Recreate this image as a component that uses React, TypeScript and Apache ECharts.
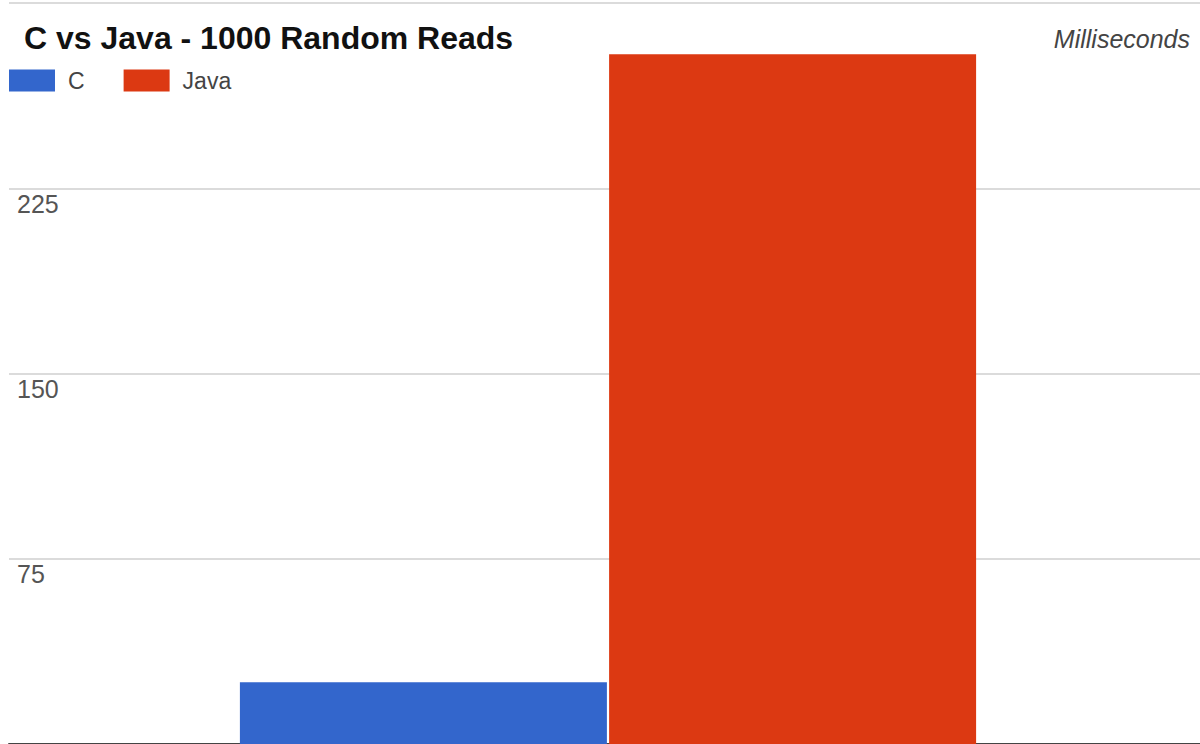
import React, { useEffect, useRef } from "react";
import * as echarts from "echarts";

const categories = ["1000 Random Reads"];
const seriesNames = ["C", "Java"];
const cValues = [25.0];
const javaValues = [279.3];
const seriesColors = ["#3366cc", "#dc3912"];
const yMin = 0;
const yMax = 300;
const yStep = 75;

export default function App() {
  const ref = useRef<HTMLDivElement>(null);

  useEffect(() => {
    if (!ref.current) return;
    const chart = echarts.init(ref.current, undefined, { renderer: "svg" });
    const font = "'Liberation Sans', Arial, sans-serif";
    chart.setOption({
      animation: false,
      backgroundColor: "#ffffff",
      textStyle: { fontFamily: font },
      title: [
        {
          text: "C vs Java - 1000 Random Reads",
          left: 24,
          top: 22,
          padding: 0,
          textStyle: { fontFamily: font, fontSize: 32, fontWeight: "bold", color: "#111" },
        },
        {
          text: "Milliseconds",
          right: 10,
          top: 26,
          padding: 0,
          textStyle: { fontFamily: font, fontSize: 25, fontStyle: "italic", fontWeight: "normal", color: "#444" },
        },
      ],
      legend: {
        left: 9,
        top: 69,
        padding: 0,
        itemWidth: 46,
        itemHeight: 22,
        itemGap: 39,
        icon: "rect",
        data: seriesNames,
        textStyle: { fontFamily: font, fontSize: 23, color: "#444", padding: [0, 0, 0, 8] },
      },
      grid: {
        left: 9,
        width: 1198,
        top: 3,
        bottom: 0,
        containLabel: false,
        outerBoundsMode: "none",
      },
      xAxis: {
        type: "category",
        data: categories,
        axisLine: { show: true, lineStyle: { color: "#444", width: 2 } },
        axisTick: { show: false },
        axisLabel: { show: false },
      },
      yAxis: {
        type: "value",
        min: yMin,
        max: yMax,
        interval: yStep,
        axisLine: { show: false },
        axisTick: { show: false },
        splitLine: { show: true, showMaxLine: true, lineStyle: { color: "#cfcfcf", width: 1.5 } },
        axisLabel: {
          inside: true,
          margin: 8,
          showMinLabel: false,
          showMaxLabel: false,
          verticalAlign: "top",
          padding: [3, 0, 0, 0],
          fontFamily: font,
          fontSize: 25,
          color: "#555",
        },
      },
      series: [
        {
          name: seriesNames[0],
          type: "bar",
          data: cValues,
          barWidth: 367,
          barGap: "0.6%",
          itemStyle: { color: seriesColors[0] },
        },
        {
          name: seriesNames[1],
          type: "bar",
          data: javaValues,
          barWidth: 367,
          barGap: "0.6%",
          itemStyle: { color: seriesColors[1] },
        },
      ],
    });
    return () => chart.dispose();
  }, []);

  return (
    <div
      ref={ref}
      style={{ position: "fixed", left: 0, top: 0, width: 1200, height: 744 }}
    />
  );
}
